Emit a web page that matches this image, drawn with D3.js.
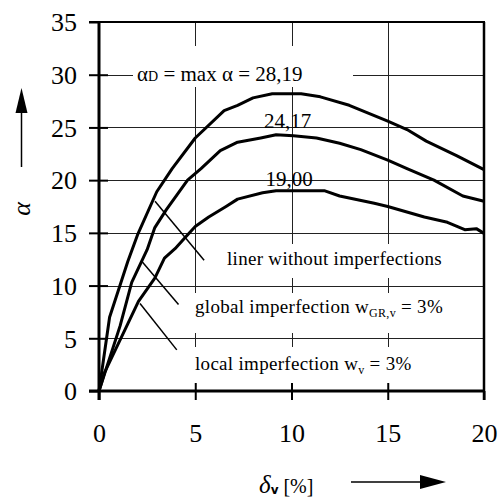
<!DOCTYPE html>
<html>
<head>
<meta charset="utf-8">
<script src="https://cdn.jsdelivr.net/npm/d3@7"></script>
<style>
  body { margin: 0; background: #fff; }
  svg text { font-family: "Liberation Serif", "Times New Roman", serif; fill: #000; }
</style>
</head>
<body>
<div id="graf"></div>
<script>
// datos (delta_v en %, alpha)
const liner_x  = [0, 0.55, 1.5, 2.0, 3.0, 3.8, 5.0, 6.5, 7.2, 8.0, 9.0, 10.5, 11.5, 13.0, 15.0, 16.0, 17.0, 18.6, 20.0]
const liner_y  = [0, 7.0, 12.3, 14.8, 18.9, 21.1, 24.0, 26.6, 27.1, 27.8, 28.2, 28.2, 27.9, 27.1, 25.6, 24.8, 23.7, 22.3, 21.0]

const global_x = [0, 1.1, 1.7, 2.5, 2.9, 3.5, 4.6, 5.3, 6.3, 7.2, 8.4, 9.2, 10.1, 11.3, 12.5, 13.6, 15.0, 16.0, 17.4, 18.9, 20.0]
const global_y = [0, 6.2, 10.3, 13.4, 15.5, 17.2, 20.0, 21.1, 22.8, 23.6, 24.0, 24.3, 24.2, 24.0, 23.5, 22.9, 21.9, 21.1, 20.0, 18.5, 18.0]

const local_x  = [0, 0.3, 1.5, 2.05, 2.9, 3.4, 3.95, 4.5, 5.0, 5.7, 6.6, 7.2, 8.5, 9.2, 11.7, 12.5, 14.3, 15.0, 16.9, 18.1, 19.0, 19.6, 20.0]
const local_y  = [0, 1.8, 6.4, 8.5, 10.7, 12.6, 13.5, 14.6, 15.6, 16.5, 17.5, 18.2, 18.8, 19.0, 19.0, 18.5, 17.8, 17.5, 16.5, 16.0, 15.3, 15.4, 14.95]

const x_ticks = [0, 5, 10, 15, 20]
const y_ticks = [0, 5, 10, 15, 20, 25, 30, 35]

// lineas de referencia (desde la curva hasta el texto)
const leader_liner  = [[2.91, 18.0], [5.46, 12.4]]
const leader_global = [[2.22, 12.3], [4.13, 8.2]]
const leader_local  = [[2.13, 8.3], [4.04, 3.9]]

// valores maximos
const max_labels = ['28,19', '24,17', '19,00']

serif = '"Liberation Serif", "Times New Roman", serif'

graf = d3.select('#graf')
ancho_total = 502
alto_total = 501

svg = graf.append('svg')
  .attr('width', ancho_total)
  .attr('height', alto_total)

x = d3.scaleLinear().domain([0, 20]).range([99, 484])
y = d3.scaleLinear().domain([0, 35]).range([391, 22])

// rejilla
grid = svg.append('g').attr('class', 'grid')
grid.selectAll('line.h')
  .data(y_ticks.filter(d => d > 0 && d < 35))
  .enter().append('line')
  .attr('x1', x(0)).attr('x2', x(20))
  .attr('y1', d => Math.round(y(d)) + 0.5).attr('y2', d => Math.round(y(d)) + 0.5)
  .attr('stroke', '#222').attr('stroke-width', 1)
grid.selectAll('line.v')
  .data(x_ticks.filter(d => d > 0 && d < 20))
  .enter().append('line')
  .attr('y1', y(35)).attr('y2', y(0))
  .attr('x1', d => Math.round(x(d)) + 0.5).attr('x2', d => Math.round(x(d)) + 0.5)
  .attr('stroke', '#222').attr('stroke-width', 1)

// cajas blancas detras de los textos
boxes = [[133, 46, 220, 41], [220, 244, 250, 34], [190, 293, 280, 40], [190, 347, 280, 36]]
svg.selectAll('rect.box').data(boxes).enter().append('rect')
  .attr('x', d => d[0]).attr('y', d => d[1])
  .attr('width', d => d[2]).attr('height', d => d[3])
  .attr('fill', '#fff')

// ejes
yAxis = d3.axisLeft(y).tickValues(y_ticks).tickSize(10).tickPadding(12)
svg.append('g')
  .attr('class', 'y axis')
  .attr('transform', `translate(${x(0)},0)`)
  .call(yAxis)
  .call(g => g.select('.domain').remove())
  .call(g => g.selectAll('line').attr('stroke', '#000').attr('stroke-width', 2))
  .call(g => g.selectAll('text').style('font-family', serif).style('font-size', '26px').attr('dy', '0.34em'))
svg.append('g')
  .attr('transform', `translate(${x(0)},0)`)
  .call(d3.axisRight(y).tickValues(y_ticks.filter(d => d > 0 && d < 35)).tickSize(9).tickFormat(''))
  .call(g => g.select('.domain').remove())
  .call(g => g.selectAll('line').attr('stroke', '#000').attr('stroke-width', 2))

xAxis = d3.axisBottom(x).tickValues(x_ticks).tickSize(9).tickPadding(24)
svg.append('g')
  .attr('class', 'x axis')
  .attr('transform', `translate(0,${y(0)})`)
  .call(xAxis)
  .call(g => g.select('.domain').remove())
  .call(g => g.selectAll('line').attr('stroke', '#000').attr('stroke-width', 2))
  .call(g => g.selectAll('text').style('font-family', serif).style('font-size', '26px'))
svg.append('g')
  .attr('transform', `translate(0,${y(0)})`)
  .call(d3.axisTop(x).tickValues(x_ticks.filter(d => d > 0 && d < 20)).tickSize(8).tickFormat(''))
  .call(g => g.select('.domain').remove())
  .call(g => g.selectAll('line').attr('stroke', '#000').attr('stroke-width', 2))

// marco
svg.append('line').attr('x1', x(0)).attr('x2', x(0)).attr('y1', y(35)).attr('y2', y(0) + 9)
  .attr('stroke', '#000').attr('stroke-width', 3)
svg.append('line').attr('x1', x(0) - 10).attr('x2', x(20)).attr('y1', y(0)).attr('y2', y(0))
  .attr('stroke', '#000').attr('stroke-width', 3)
svg.append('line').attr('x1', x(0) - 10).attr('x2', x(20) + 1).attr('y1', y(35)).attr('y2', y(35))
  .attr('stroke', '#000').attr('stroke-width', 2)
svg.append('line').attr('x1', x(20)).attr('x2', x(20)).attr('y1', y(35)).attr('y2', y(0) + 9)
  .attr('stroke', '#000').attr('stroke-width', 2.5)

// curvas
linea = d3.line().x(d => x(d[0])).y(d => y(d[1]))
series = [d3.zip(liner_x, liner_y), d3.zip(global_x, global_y), d3.zip(local_x, local_y)]
svg.selectAll('path.curve').data(series).enter().append('path')
  .attr('class', 'curve')
  .attr('d', linea)
  .attr('fill', 'none').attr('stroke', '#000').attr('stroke-width', 3)
  .attr('stroke-linejoin', 'round')

svg.selectAll('path.leader').data([leader_liner, leader_global, leader_local]).enter().append('path')
  .attr('d', linea)
  .attr('fill', 'none').attr('stroke', '#000').attr('stroke-width', 1.5)

// textos
t = svg.append('text').attr('x', 137).attr('y', 81).attr('font-size', '21px')
t.append('tspan').text('α')
t.append('tspan').attr('font-size', '14px').text('D')
t.append('tspan').text(' = max α = ' + max_labels[0])

svg.append('text').attr('x', 287.5).attr('y', 128).attr('text-anchor', 'middle').attr('font-size', '21px').text(max_labels[1])
svg.append('text').attr('x', 289).attr('y', 186).attr('text-anchor', 'middle').attr('font-size', '21px').text(max_labels[2])

svg.append('text').attr('x', 227).attr('y', 265).attr('font-size', '19px').style('letter-spacing', '0.3px').text('liner without imperfections')
t2 = svg.append('text').attr('x', 195).attr('y', 313).attr('font-size', '19px').style('letter-spacing', '0.3px')
t2.append('tspan').text('global imperfection w')
t2.append('tspan').attr('font-size', '12px').attr('dy', 4).text('GR,v')
t2.append('tspan').attr('dy', -4).text(' = 3%')
t3 = svg.append('text').attr('x', 195).attr('y', 370).attr('font-size', '19px').style('letter-spacing', '0.3px')
t3.append('tspan').text('local imperfection w')
t3.append('tspan').attr('font-size', '12px').attr('dy', 4).text('v')
t3.append('tspan').attr('dy', -4).text(' = 3%')

// titulos de ejes con flechas
svg.append('text')
  .attr('transform', 'translate(30,209) rotate(-90)')
  .attr('text-anchor', 'middle')
  .attr('font-size', '26px').attr('font-style', 'italic')
  .text('α')
svg.append('line').attr('x1', 21.5).attr('x2', 21.5).attr('y1', 167).attr('y2', 110)
  .attr('stroke', '#000').attr('stroke-width', 1.5)
svg.append('path').attr('d', 'M21.5,88 L15.5,113 L27.5,113 Z').attr('fill', '#000')

tx = svg.append('text').attr('x', 259).attr('y', 493).attr('font-size', '25px')
tx.append('tspan').attr('font-style', 'italic').text('δ')
tx.append('tspan').style('font-family', '"DejaVu Sans", sans-serif').attr('font-weight', 'bold').attr('font-size', '12px').attr('dy', 1).text('v')
tx.append('tspan').attr('font-size', '20px').attr('dy', -1).text(' [%]')
svg.append('line').attr('x1', 351).attr('x2', 425).attr('y1', 482).attr('y2', 482)
  .attr('stroke', '#000').attr('stroke-width', 1.5)
svg.append('path').attr('d', 'M446,482 L420,475 L420,489 Z').attr('fill', '#000')
</script>
</body>
</html>
